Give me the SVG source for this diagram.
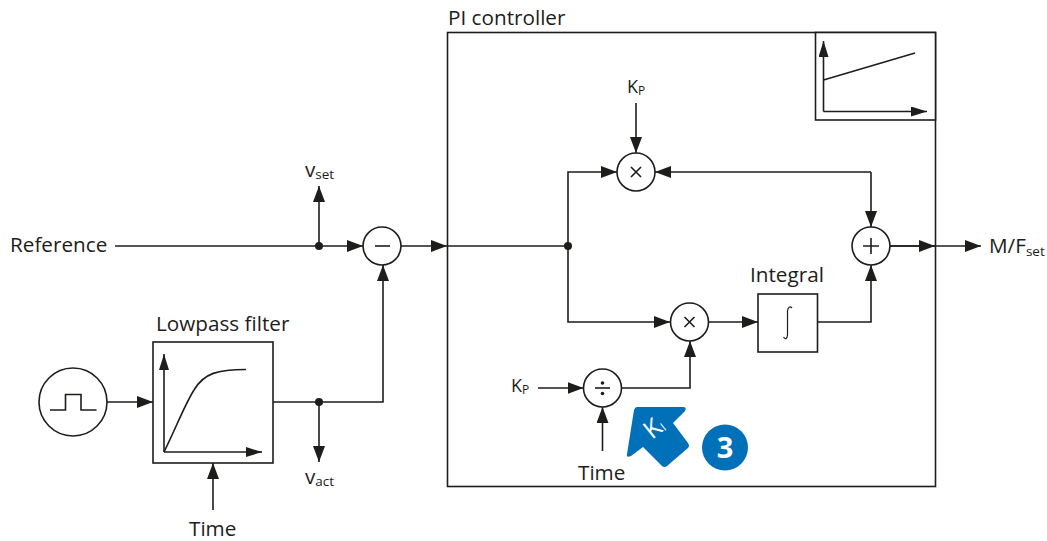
<svg xmlns="http://www.w3.org/2000/svg" width="1047" height="541" viewBox="0 0 1047 541">
<style>
text{font-family:"Open Sans","Liberation Sans",sans-serif;fill:#1d1d1b;font-size:20.700px}
tspan.s{font-size:13.500px}
.box{fill:#fff;stroke:#1d1d1b;stroke-width:1.6}
.l{fill:none;stroke:#1d1d1b;stroke-width:1.6}
.a{fill:none;stroke:#1d1d1b;stroke-width:1.6;marker-end:url(#ah)}
.a2{fill:none;stroke:#1d1d1b;stroke-width:1.6;marker-end:url(#ah2)}
.d{fill:#1d1d1b}
</style>
<defs>
<marker id="ah" viewBox="0 0 16 12" refX="16" refY="6" markerUnits="userSpaceOnUse" markerWidth="16" markerHeight="12" orient="auto-start-reverse"><path d="M0 0L16 6L0 12Z" fill="#1d1d1b"/></marker>
<marker id="ah2" viewBox="0 0 16 10" refX="16" refY="5" markerUnits="userSpaceOnUse" markerWidth="16" markerHeight="10" orient="auto-start-reverse"><path d="M0 0L16 5L0 10Z" fill="#1d1d1b"/></marker>
</defs>
<g id="pi-controller"><rect class="box" x="447.500" y="32.500" width="488" height="454"/><text x="448" y="25">PI controller</text></g>
<g id="inset"><rect class="box" x="815.500" y="32.500" width="120" height="87.500"/>
<path class="a2" d="M823.500 111.500V41"/><path class="a2" d="M823.500 111.500H927"/><path class="l" d="M823.500 80L915 53"/></g>
<g id="connectors">
<path class="a" d="M115 246H363"/>
<path class="a" d="M319 246V186"/>
<path class="a" d="M401 246H447"/><path class="l" d="M447 246H568"/>
<path class="a" d="M568 246V172H617"/>
<path class="a" d="M568 246V322H670"/>
<path class="a" d="M636 103V153"/>
<path class="a" d="M871 172H655"/>
<path class="a" d="M871 172V227"/>
<path class="a" d="M889 246H981"/><path class="a" d="M889 246H935"/>
<path class="a" d="M708 322H758"/>
<path class="a" d="M817.500 322H871V265"/>
<path class="a" d="M538 388H583.500"/>
<path class="a" d="M622 388H690V341"/>
<path class="a" d="M602.500 451V407"/>
<path class="a" d="M107 402H153"/>
<path class="a" d="M273 402H383V265"/>
<path class="a" d="M319 402V462"/>
<path class="a" d="M213 510V463"/>
<circle class="d" cx="319" cy="246" r="4"/><circle class="d" cx="568" cy="246" r="4"/><circle class="d" cx="319" cy="402" r="4"/>
</g>
<g id="minus"><circle class="box" cx="382" cy="246" r="19"/><path class="l" d="M375 246H390"/></g>
<g id="times-top"><circle class="box" cx="636" cy="172" r="19"/><path class="l" d="M631 167L641 177M641 167L631 177"/></g>
<g id="plus"><circle class="box" cx="871" cy="246" r="19"/><path class="l" d="M863 246H879M871 238V254"/></g>
<g id="times-low"><circle class="box" cx="689.500" cy="322" r="19"/><path class="l" d="M684.500 317L694.500 327M694.500 317L684.500 327"/></g>
<g id="divide"><circle class="box" cx="602.500" cy="388" r="19"/><path class="l" d="M595 388H610"/><circle class="d" cx="602.500" cy="383" r="1.800"/><circle class="d" cx="602.500" cy="393.500" r="1.800"/></g>
<g id="source"><circle class="box" cx="73" cy="402" r="34"/><path class="l" d="M50 410H65.500V394.500H81V410H96.500"/></g>
<g id="lowpass"><rect class="box" x="153" y="342" width="120" height="121"/>
<path class="a2" d="M164 452V354"/><path class="a2" d="M164 452H262"/>
<path class="l" d="M164 452C176 428 184 406 194 390C204 373 218 369.500 246 369.500"/>
<text x="156" y="331">Lowpass filter</text></g>
<g id="integral"><rect class="box" x="758" y="294" width="59.500" height="58"/>
<path class="l" d="M783.500 337C785.500 340 787 339 787.500 335V311C788 307 790 306 792 308" style="stroke-width:1.200"/>
<text x="750" y="282">Integral</text></g>
<g id="labels">
<text x="10" y="252">Reference</text>
<text x="305" y="177">v<tspan class="s" dy="2">set</tspan></text>
<text x="305" y="484">v<tspan class="s" dy="2">act</tspan></text>
<text x="627" y="93" style="font-size:18px">K<tspan dy="2" style="font-size:12px">P</tspan></text>
<text x="511" y="392" style="font-size:18px">K<tspan dy="2" style="font-size:12px">P</tspan></text>
<text x="578" y="480">Time</text>
<text x="189" y="536">Time</text>
<text x="989" y="253">M/F<tspan class="s" dy="3">set</tspan></text>
</g>
<g id="badge">
<path d="M637 407L683 407Q687 407 685 411L673 423L688 443Q690 446 688 448L667 466Q664 468 662 466L643 447L631 456Q626 458 627 454L634 410Q635 407 637 407Z" fill="#0070b8"/>
<text x="0" y="0" transform="translate(652 440) rotate(-39)" style="fill:#fff;font-size:25px">K<tspan dy="1" style="font-size:12px;fill:#fff">I</tspan></text>
<circle cx="725" cy="447.500" r="23" fill="#0070b8"/>
<text x="725" y="458" text-anchor="middle" style="fill:#fff;font-size:29px;font-weight:700">3</text>
</g>
</svg>
